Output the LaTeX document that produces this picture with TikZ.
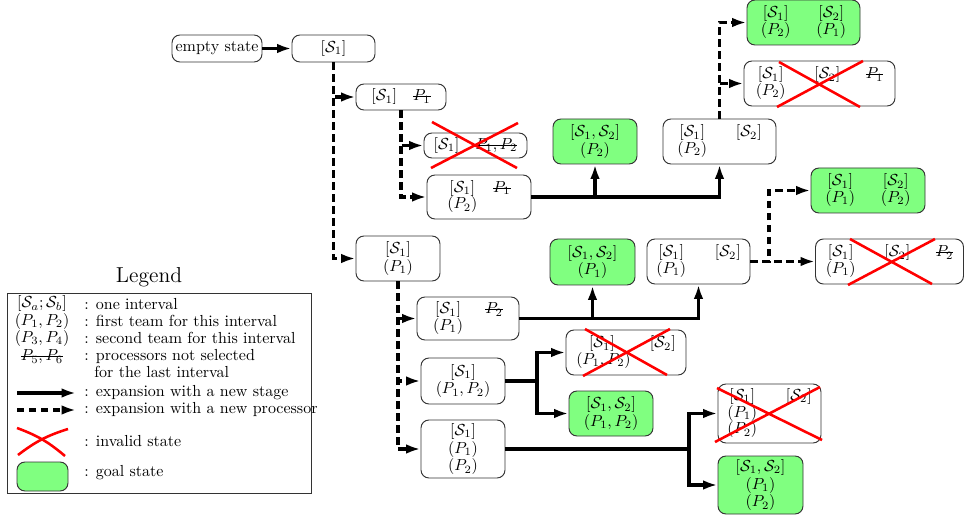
\documentclass[tikz,border=0pt]{standalone}
\usetikzlibrary{arrows.meta}
\newsavebox\stkbx
\newcommand\strk[1]{\sbox\stkbx{$#1$}\rlap{\raisebox{2.4pt}{\rule{\wd\stkbx}{0.5pt}}}\usebox\stkbx}
\newcommand\SI{\mathcal{S}_1}
\newcommand\SII{\mathcal{S}_2}
\tikzset{
 st/.style={draw=black!80, line width=0.6pt, rounded corners=5pt, inner sep=1pt, align=center, font=\fontsize{10}{11}\selectfont},
 goal/.style={st, fill=green!50},
 sz/.style 2 args={minimum width=#1*0.625pt, minimum height=#2*0.625pt},
 stage/.style={line width=2pt, -{Latex[length=9pt,width=6pt]}},
 proc/.style={stage, dash pattern=on 4.5pt off 3pt},
 inval/.style={red, line width=1.6pt},
 lgt/.style={anchor=west, inner sep=0pt, font=\fontsize{10}{11}\selectfont},
 lgi/.style={inner sep=0pt, font=\fontsize{10}{11}\selectfont},
}
\renewcommand\arraystretch{0.92}
\begin{document}
\begin{tikzpicture}[x=0.625pt, y=-0.625pt]
\useasboundingbox (0,0) rectangle (964,515);
% states
\node[st, sz={90}{27}] (e) at (217,48.5) {empty state};
\node[st, sz={83}{27}] (n1) at (333.5,48.5) {$[\SI]$};
\node[st, sz={90}{26}] (n2) at (401,97) {$[\SI]$\quad\strk{P_1}};
\node[st, sz={103}{25}] (n3) at (475.5,145.5) {$[\SI]$\quad\strk{P_1,P_2}};
\node[st, sz={104}{44}] (n4) at (479,197) {\begin{tabular}{@{}c@{\hspace{10pt}}c@{}}$[\SI]$ & \strk{P_1}\\ $(P_2)$ & \end{tabular}};
\node[goal, sz={84}{45}] (g1) at (595,141.5) {$[\SI,\SII]$\\$(P_2)$};
\node[st, sz={113}{45}] (n5) at (719.5,141.5) {\begin{tabular}{@{}c@{\hspace{18pt}}c@{}}$[\SI]$ & $[\SII]$\\ $(P_2)$ & \end{tabular}};
\node[goal, sz={113}{45}] (g2) at (803.5,22.5) {\begin{tabular}{@{}c@{\hspace{16pt}}c@{}}$[\SI]$ & $[\SII]$\\ $(P_2)$ & $(P_1)$\end{tabular}};
\node[st, sz={151}{45}] (n6) at (819.5,83.5) {\begin{tabular}{@{}c@{\hspace{18pt}}c@{\hspace{16pt}}c@{}}$[\SI]$ & $[\SII]$ & \strk{P_1}\\ $(P_2)$ & & \end{tabular}};
\node[goal, sz={114}{45}] (g3) at (868,190.5) {\begin{tabular}{@{}c@{\hspace{16pt}}c@{}}$[\SI]$ & $[\SII]$\\ $(P_1)$ & $(P_2)$\end{tabular}};
\node[st, sz={84}{45}] (n7) at (398,258.5) {$[\SI]$\\$(P_1)$};
\node[goal, sz={85}{46}] (g4) at (592.5,262) {$[\SI,\SII]$\\$(P_1)$};
\node[st, sz={103}{45}] (n8) at (698.5,261.5) {\begin{tabular}{@{}c@{\hspace{18pt}}c@{}}$[\SI]$ & $[\SII]$\\ $(P_1)$ & \end{tabular}};
\node[st, sz={148}{45}] (n9) at (889.5,261.5) {\begin{tabular}{@{}c@{\hspace{18pt}}c@{\hspace{16pt}}c@{}}$[\SI]$ & $[\SII]$ & \strk{P_2}\\ $(P_1)$ & & \end{tabular}};
\node[st, sz={102}{43}] (n10) at (468,318.5) {\begin{tabular}{@{}c@{\hspace{14pt}}c@{}}$[\SI]$ & \strk{P_2}\\ $(P_1)$ & \end{tabular}};
\node[st, sz={120}{45}] (n11) at (626,352.5) {\begin{tabular}{@{}l@{\hspace{22pt}}l@{}}\hspace{8pt}$[\SI]$ & $[\SII]$\\ \multicolumn{2}{@{}l@{}}{$(P_1,P_2)$}\end{tabular}};
\node[st, sz={84}{46}] (n12) at (463,381) {$[\SI]$\\$(P_1,P_2)$};
\node[goal, sz={84}{45}] (g5) at (611,413.5) {$[\SI,\SII]$\\$(P_1,P_2)$};
\node[st, sz={84}{58}] (n13) at (463,449) {$[\SI]$\\$(P_1)$\\$(P_2)$};
\node[st, sz={103}{59}] (n14) at (769.5,413.5) {\begin{tabular}{@{}c@{\hspace{18pt}}c@{}}$[\SI]$ & $[\SII]$\\ $(P_1)$ & \\ $(P_2)$ & \end{tabular}};
\node[goal, sz={85}{58}] (g6) at (760.5,485) {$[\SI,\SII]$\\$(P_1)$\\$(P_2)$};
% connectors
\draw[stage] (e) -- (n1);
\draw[proc] (n1.south) |- (n2.west);
\draw[proc] (n1.south) |- (n7.west);
\draw[proc] (n2.south) |- (n3.west);
\draw[proc] (n2.south) |- (n4.west);
\draw[stage] (n4.east) -| (g1.south);
\draw[stage] (n4.east) -| (n5.south);
\draw[proc] (n5.north) |- (g2.west);
\draw[proc] (n5.north) |- (n6.west);
\draw[proc] (n7.south) |- (n10.west);
\draw[proc] (n7.south) |- (n12.west);
\draw[proc] (n7.south) |- (n13.west);
\draw[stage] (n10.east) -| (g4.south);
\draw[stage] (n10.east) -| (n8.south);
\coordinate (b1) at (769,261.5);
\draw[proc] (n8.east) -- (n9.west);
\draw[proc] (n8.east) -- (b1) |- (g3.west);
\coordinate (b2) at (537,381);
\draw[stage] (n12.east) -- (b2) |- (n11.west);
\draw[stage] (n12.east) -- (b2) |- (g5.west);
\coordinate (b3) at (689,449);
\draw[stage] (n13.east) -- (b3) |- (n14.west);
\draw[stage] (n13.east) -- (b3) |- (g6.west);
% invalid crosses
\draw[inval] (432,122) -- (517,168) (431,168) -- (518,123);
\draw[inval] (779,62) -- (860,107) (777,107) -- (863,61);
\draw[inval] (850,239) -- (932,284) (848,285) -- (935,239);
\draw[inval] (585,329) -- (667,375) (583,376) -- (670,329);
\draw[inval] (717,388) -- (822,440) (715,442) -- (820,387);
% legend
\node[font=\fontsize{13.5}{15}\selectfont] (lt) at (149,277) {Legend};
\node[draw=black!80, line width=0.6pt, minimum width=304*0.625pt, minimum height=200*0.625pt, inner sep=0pt] (lbox) at (159,393) {};
\node[lgi] (l1) at (42,304) {$[\mathcal{S}_a;\mathcal{S}_b]$};
\node[lgi] (l2) at (42,321) {$(P_1,P_2)$};
\node[lgi] (l3) at (42,338) {$(P_3,P_4)$};
\node[lgi] (l4) at (42,357) {\strk{P_5,P_6}};
\node[lgt] (t1) at (84,304) {: one interval};
\node[lgt] (t2) at (84,321) {: first team for this interval};
\node[lgt] (t3) at (84,338) {: second team for this interval};
\node[lgt] (t4) at (84,356) {: processors not selected};
\node[lgt] (t4b) at (94,372) {for the last interval};
\node[lgt] (t5) at (84,393) {: expansion with a new stage};
\node[lgt] (t6) at (84,409) {: expansion with a new processor};
\node[lgt] (t7) at (84,441) {: invalid state};
\node[lgt] (t8) at (84,473) {: goal state};
\coordinate (a1s) at (17,393); \coordinate (a1e) at (76,393);
\coordinate (a2s) at (17,410); \coordinate (a2e) at (76,410);
\draw[stage] (a1s) -- (a1e);
\draw[proc] (a2s) -- (a2e);
\draw[inval] (17,428) to[bend left=10] (65,456);
\draw[inval] (18,455) to[bend left=10] (68,429);
\node[goal, sz={51}{29}] (lg) at (42.5,476.5) {};
\end{tikzpicture}
\end{document}
